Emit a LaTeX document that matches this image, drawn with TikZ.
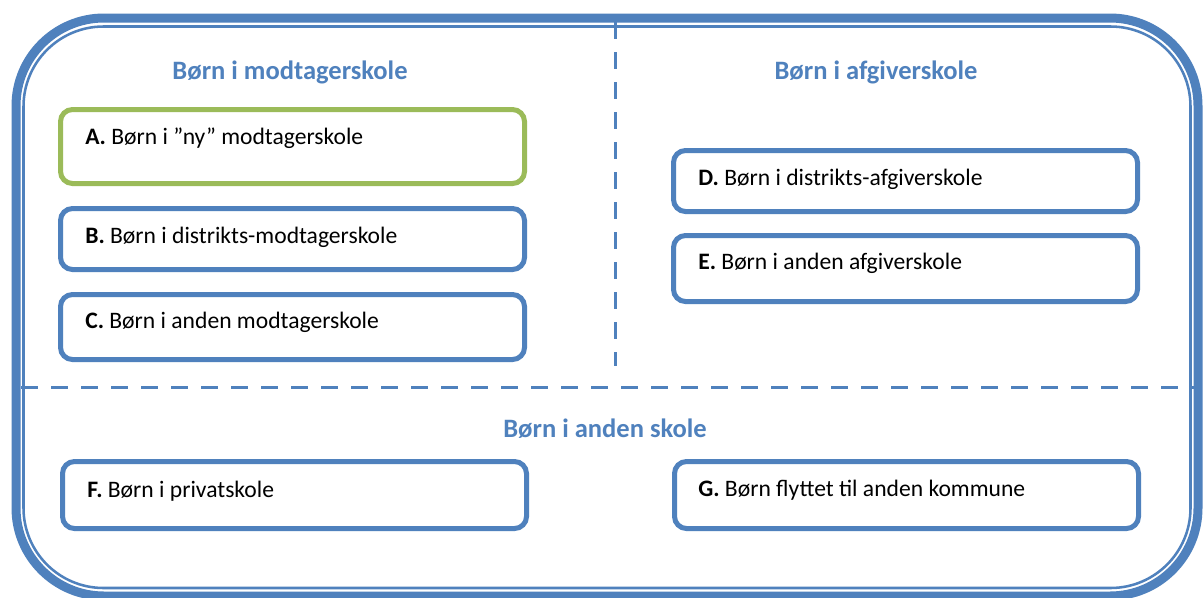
\documentclass[tikz,border=0pt]{standalone}
\usepackage{fontspec}
\setmainfont{Carlito}
\usetikzlibrary{positioning}
\definecolor{officeblue}{RGB}{79,129,189}
\definecolor{officegreen}{RGB}{155,187,89}
\tikzset{%
  frameouter/.style = {draw=officeblue,line width=6.75pt,rounded corners=66pt},
  frameinner/.style = {draw=officeblue,line width=1.9pt,rounded corners=60pt},
  divider/.style = {draw=officeblue,line width=2.25pt,dash pattern=on 12.75pt off 9.75pt},
  bluebox/.style = {rectangle,draw=officeblue,line width=3.75pt,rounded corners=9pt,
        anchor=north west,inner sep=0pt,outer sep=0pt,minimum width=348pt},
  greenbox/.style = {bluebox,draw=officegreen},
  boxtext/.style = {anchor=west,inner sep=0pt,font=\fontsize{17.7}{20}\selectfont},
  header/.style = {text=officeblue,font=\fontsize{19.9}{23}\selectfont\bfseries}
}
\begin{document}
\begin{tikzpicture}[x=0.75pt,y=-0.75pt]
   \useasboundingbox (0,0) rectangle (1203,597);
   \fill[white] (0,0) rectangle (1203,597);

   % frame
   \draw[frameouter] (16,18) rectangle (1198,596);
   \draw[frameinner] (23.5,26.5) rectangle (1190.5,588);

   % dividers
   \coordinate (vtop) at (615,22);
   \coordinate (vbot) at (615,366);
   \coordinate (hleft) at (21,387);
   \coordinate (hright) at (1196,387);
   \draw[divider] (vtop) -- (vbot);
   \draw[divider] (hleft) -- (hright);

   % headers
   \node[header] (modt) at (290,72) {Børn i modtagerskole};
   \node[header] (afgiv) at (876,72) {Børn i afgiverskole};
   \node[header] (anden) at (605,429) {Børn i anden skole};

   % boxes
   \node[greenbox,minimum height=55.5pt] (A) at (60.5,109.5) {};
   \node[bluebox,minimum height=45.75pt] (B) at (60.5,208.5) {};
   \node[bluebox,minimum height=48.75pt] (C) at (60.5,294.5) {};
   \node[bluebox,minimum height=45.75pt] (D) at (673.5,150.5) {};
   \node[bluebox,minimum height=49.5pt] (E) at (673.5,235.5) {};
   \node[bluebox,minimum height=50.25pt] (F) at (62.5,461.5) {};
   \node[bluebox,minimum height=50.25pt] (G) at (674.5,461.5) {};

   \node[boxtext] (Atext) at (85,138) {\textbf{A.} Børn i ”ny” modtagerskole};
   \node[boxtext] (Btext) at (85,237) {\textbf{B.} Børn i distrikts-modtagerskole};
   \node[boxtext] (Ctext) at (85,322) {\textbf{C.} Børn i anden modtagerskole};
   \node[boxtext] (Dtext) at (698,179) {\textbf{D.} Børn i distrikts-afgiverskole};
   \node[boxtext] (Etext) at (698,263) {\textbf{E.} Børn i anden afgiverskole};
   \node[boxtext] (Ftext) at (87,491) {\textbf{F.} Børn i privatskole};
   \node[boxtext] (Gtext) at (698,490) {\textbf{G.} Børn flyttet til anden kommune};
\end{tikzpicture}
\end{document}
